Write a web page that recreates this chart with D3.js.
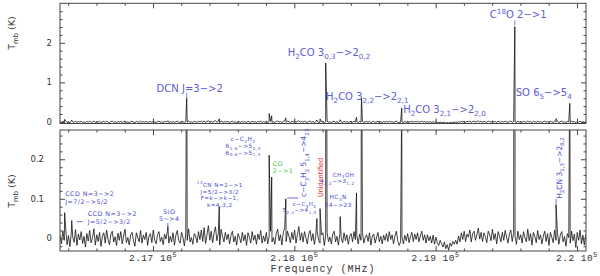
<!DOCTYPE html>
<html><head><meta charset="utf-8">
<script src="https://cdn.jsdelivr.net/npm/d3@7"></script>
<style>
body{margin:0;background:#fff}
svg{display:block}
</style></head><body>
<div id="chart"></div>
<script>
// spectrum: regular channel grid (MHz) + baseline (mK)
var f0 = 216342, df = 10
var baseline = [
  8,-14,19,-5,26,-16,7,-21,14,3,-10,22,-18,11,-4,17,-13,5,-22,12,
  -7,20,-11,2,24,-17,9,-8,15,-20,5,14,-12,21,-3,-16,11,18,-9,4,
  -18,13,-5,17,-14,6,23,-11,2,-17,9,15,-6,-20,14,3,-9,20,-12,8,
  -3,15,-18,6,12,-11,21,-5,-14,9,17,-8,3,-16,11,-2,18,-12,5,-9,
  14,-17,8,20,-6,-12,15,3,-19,11,-5,24,-9,2,-15,12,6,-11,17,-3,
  21,-8,27,-13,9,32,-5,18,-11,14,29,-6,12,-17,23,5,-9,15,-3,11,
  -14,8,18,-9,5,-17,12,2,-11,15,-6,9,-18,14,3,-12,17,-5,8,-15,
  11,-3,20,-12,6,-8,15,-14,5,18,-9,2,-15,12,23,-6,9,-17,14,27,
  -8,18,5,-11,15,-3,21,-12,9,30,-5,14,-9,17,2,-14,11,20,-6,12,
  -15,8,17,-5,-12,9,14,-18,6,15,-8,3,-14,11,18,-9,5,-17,12,2,
  -11,14,-6,9,-15,5,12,-9,17,-3,8,-14,11,-5,15,-12,3,9,-8,14,
  -17,6,11,-12,3,15,-9,5,-14,8,-5,12,-8,17,-3,9,-14,6,18,-6,
  -18,-9,3,-14,8,-6,12,-11,5,15,-8,11,-3,14,-9,6,18,-5,9,-12,
  9,-6,5,-12,8,-15,3,-11,-18,-5,-14,-22,-9,-26,-16,-30,-12,-20,-8,-15,
  -5,-15,6,-9,14,-3,18,-8,11,3,21,-9,12,18,-5,9,26,-2,15,-8,
  14,5,-11,18,9,-6,23,-3,12,-14,17,6,-9,15,-5,20,3,-12,11,21,
  -8,14,5,-15,18,-3,9,-12,17,2,-9,23,-6,12,-17,15,5,-11,20,-3,
  9,-14,6,18,-8,12,-18,15,3,-11,21,-5,14,-15,8,17,-9,5,-20,12,
  2,-12,18,-6,11,-23,15,-5,21,-14,8,-17,9
]
// emission lines: rest freq (MHz) and peak T_mb (K)
var lineFreq = [216375, 216425, 217105, 217238.5, 217469, 217822, 217840, 217940, 218160, 218182,
  218222.2, 218324.7, 218440, 218475.6, 218760.1, 219560.4, 219852, 219949.4]
var linePeak = [0.065, 0.045, 0.03, 0.60, 0.08, 0.21, 0.155, 0.10, 0.05, 0.075,
  1.49, 0.055, 0.115, 0.60, 0.35, 2.41, 0.085, 0.47]

var xMajor = [217000, 218000, 219000, 220000]
var xTickLabels = ['2.17 10^5', '2.18 10^5', '2.19 10^5', '2.2 10^5']
var topMajor = [0, 1, 2], topTickLabels = ['0', '1', '2']
var botMajor = [0, 0.1, 0.2], botTickLabels = ['0', '0.1', '0.2']

// annotations (text lines, line they point at)
var topNotes = [
  {text: ['DCN J=3−>2'], f: 217238.5, t: 0.769, dx: 3, anchor: 'middle', tick: [0.605, 0.73]},
  {text: ['H_2CO 3_{0,3}−>2_{0,2}'], f: 218222.2, t: 1.667, dx: -38, anchor: 'start'},
  {text: ['H_2CO 3_{2,2}−>2_{2,1}'], f: 218475.6, t: 0.56, dx: -35.5, anchor: 'start'},
  {text: ['H_2CO 3_{2,1}−>2_{2,0}'], f: 218760.1, t: 0.235, dx: 1.5, anchor: 'start'},
  {text: ['C^{18}O 2−>1'], f: 219560.4, t: 2.62, dx: -25, anchor: 'start', tick: [2.44, 2.57]},
  {text: ['SO 6_5−>5_4'], f: 219949.4, t: 0.655, dx: 2, anchor: 'end'}
]
var botNotes = [
  {text: ['CCD N=3−>2', 'J=7/2−>5/2'], f: 216375, t: 0.106, dx: 0.5, anchor: 'start', size: 6.3, lh: 7.3},
  {text: ['CCD N=3−>2', 'J=5/2−>3/2'], f: 216425, t: 0.0555, dx: 16, anchor: 'start', size: 6.3, lh: 7.3, hook: [5, 11]},
  {text: ['SiO', '5−>4'], f: 217105, t: 0.062, dx: 1.5, anchor: 'middle', size: 6.3, lh: 7.3, tick: [0.021, 0.039]},
  {text: ['^{13}CN N=2−>1', 'J=5/2−>3/2', 'F=k−>k−1,', 'k=4,3,2'], f: 217469, t: 0.13, dx: 0.5, anchor: 'middle', size: 5.6, lh: 6.6},
  {text: ['c−C_3H_2', '6_{1,6}−>5_{0,5}', '6_{0,6}−>5_{1,5}'], f: 217822, t: 0.246, dx: -26, anchor: 'middle', size: 5.8, lh: 6.8},
  {text: ['CO', '2−>1'], f: 217840, t: 0.184, dx: 1, anchor: 'start', size: 6.3, lh: 7.3, color: '#33cc33'},
  {text: ['c−C_3H_2 5_{1,4}−>4_{23}'], f: 217940, t: 0.1046, dx: 20.5, anchor: 'start', size: 7.5, rot: true, hook: [1.5, 12.5]},
  {text: ['c−C_3H_2', '5_{2,4}−>4_{1,3}'], f: 218160, t: 0.082, dx: -0.5, anchor: 'end', size: 5.5, lh: 6.5},
  {text: ['Unidentified'], f: 218182, t: 0.1046, dx: 2.5, anchor: 'start', size: 7, rot: true, len: 39, color: '#e03030'},
  {text: ['CH_3OH', '4_{2,2}−>3_{1,2}'], f: 218440, t: 0.156, dx: -2, anchor: 'end', size: 5.6, lh: 6.6},
  {text: ['HC_3N', '24−>23'], f: 218324.7, t: 0.099, dx: -2, anchor: 'middle', size: 5.8, lh: 7.8},
  {text: ['H_2CN 3_{1,3}−>2_{0,2}'], f: 219852, t: 0.1, dx: 5.5, anchor: 'start', size: 7.5, rot: true, tick: [0.085, 0.1]}
]

// merge baseline channels with the line peaks
var spec = baseline.map(function(v, i){ return {f: f0 + i*df, t: v/1000} })
lineFreq.forEach(function(f, i){ spec.push({f: f, t: linePeak[i]}) })
spec.sort(function(a, b){ return a.f - b.f })

var W = 600, H = 276
var svg = d3.select('#chart').append('svg').attr('width', W).attr('height', H)
  .style('font-family', 'DejaVu Sans, sans-serif')

var x = d3.scaleLinear().domain([216342, 220064]).range([60, 586])

var panels = [
  {id: 'top', y: d3.scaleLinear().domain([-0.04, 3.0]).range([123.5, 3.3]),
   major: topMajor, labels: topTickLabels, minor: d3.range(0.2, 3.0, 0.2), titleY: 33, notes: topNotes},
  {id: 'bot', y: d3.scaleLinear().domain([-0.032, 0.274]).range([251, 130]),
   major: botMajor, labels: botTickLabels, minor: d3.range(-0.02, 0.27, 0.02), titleY: 191, notes: botNotes}
]

var axisCol = '#444', textCol = '#333', noteCol = '#4a4ad0'

// text with _sub / ^sup runs
function rich(t, s, fs){
  var re = /([_^])\{([^}]*)\}|([_^])(.)|([^_^]+)/g, m, shift = 0
  while ((m = re.exec(s))){
    var kind = m[1] || m[3]
    var txt = m[2] != null ? m[2] : (m[4] != null ? m[4] : m[5])
    var target = kind == '_' ? fs*0.3 : kind == '^' ? -fs*0.45 : 0
    t.append('tspan').attr('dy', target - shift)
      .style('font-size', kind ? (fs*0.72) + 'px' : null).text(txt)
    shift = target
  }
}

var minorX = d3.range(216400, 220064, 200).filter(function(d){ return xMajor.indexOf(d) < 0 })

panels.forEach(function(p, pi){
  var y = p.y
  var y0 = y.range()[1], y1 = y.range()[0]
  var g = svg.append('g')

  g.append('clipPath').attr('id', 'clip' + p.id)
    .append('rect').attr('x', 60).attr('y', y0).attr('width', 526).attr('height', y1 - y0)

  // spectrum
  g.append('path').datum(spec)
    .attr('clip-path', 'url(#clip' + p.id + ')')
    .attr('d', d3.line().x(function(d){ return x(d.f) }).y(function(d){ return y(d.t) }))
    .attr('fill', 'none').attr('stroke', '#111').attr('stroke-width', 0.8)

  // frame + inward ticks
  g.append('rect').attr('x', 60).attr('y', y0).attr('width', 526).attr('height', y1 - y0)
    .attr('fill', 'none').attr('stroke', axisCol).attr('stroke-width', 1)

  function ax(gen, vals, size, tr){
    var a = g.append('g').attr('transform', tr)
      .call(gen.tickValues(vals).tickSize(-size).tickSizeOuter(0).tickFormat(''))
    a.select('.domain').remove()
    a.selectAll('line').attr('stroke', axisCol)
    return a
  }
  var minorY = p.minor.filter(function(v){ return p.major.every(function(m){ return Math.abs(m - v) > 1e-6 }) })
  ax(d3.axisBottom(x), xMajor, 5, 'translate(0,' + y1 + ')')
  ax(d3.axisBottom(x), minorX, 2.5, 'translate(0,' + y1 + ')')
  ax(d3.axisTop(x), xMajor, 5, 'translate(0,' + y0 + ')')
  ax(d3.axisTop(x), minorX, 2.5, 'translate(0,' + y0 + ')')
  ax(d3.axisLeft(y), p.major, 5, 'translate(60,0)')
  ax(d3.axisLeft(y), minorY, 2.5, 'translate(60,0)')
  ax(d3.axisRight(y), p.major, 5, 'translate(586,0)')
  ax(d3.axisRight(y), minorY, 2.5, 'translate(586,0)')

  // y tick labels
  g.selectAll('text.yl').data(p.major).enter().append('text').attr('class', 'yl')
    .attr('x', function(d){ return (pi == 1 && d != 0) ? 44 : 52 })
    .attr('y', function(d){ return y(d) + 3 })
    .attr('text-anchor', 'end').attr('fill', textCol).style('font-size', '8.5px')
    .text(function(d, i){ return p.labels[i] })

  // y title
  var tt = g.append('text').attr('transform', 'translate(15,' + p.titleY + ') rotate(-90)')
    .attr('text-anchor', 'middle').attr('fill', textCol).style('font-size', '9.5px')
  rich(tt, 'T_{mb} (K)', 9.5)

  // annotations
  p.notes.forEach(function(n){
    var fs = n.size || 10, lh = n.lh || 6, col = n.color || (pi == 0 ? '#5c5cd6' : noteCol)
    var ax0 = x(n.f) + n.dx, ay0 = y(n.t)
    n.text.forEach(function(s, li){
      var t = g.append('text').attr('fill', col).style('font-size', fs + 'px')
        .attr('text-anchor', n.anchor)
      if (n.rot){
        t.attr('transform', 'translate(' + ax0 + ',' + ay0 + ') rotate(-90)')
        if (n.len) t.attr('textLength', n.len).attr('lengthAdjust', 'spacingAndGlyphs')
      } else {
        t.attr('x', ax0).attr('y', ay0 + li*lh)
        if (pi == 1) t.style('letter-spacing', '0.5px')
      }
      rich(t, s, fs)
    })
    if (n.tick){
      g.append('line').attr('x1', x(n.f)).attr('x2', x(n.f))
        .attr('y1', y(n.tick[0])).attr('y2', y(n.tick[1])).attr('stroke', col).attr('stroke-width', 0.8)
    }
    if (n.hook){
      var hy = n.rot ? ay0 + 1 : ay0 + (n.text.length - 1)*lh - 2
      g.append('line').attr('x1', x(n.f) + n.hook[0]).attr('x2', x(n.f) + n.hook[1])
        .attr('y1', hy).attr('y2', hy).attr('stroke', col).attr('stroke-width', 0.8)
    }
  })

  // x tick labels only under the lower panel
  if (pi == 1){
    xMajor.forEach(function(v, i){
      var t = svg.append('text').attr('x', x(v)).attr('y', 261)
        .attr('text-anchor', 'middle').attr('fill', textCol)
        .style('font-family', 'Liberation Mono, monospace').style('font-size', '9.5px')
        .style('letter-spacing', '0.5px')
      rich(t, xTickLabels[i], 9.5)
    })
    svg.append('text').attr('x', 323).attr('y', 272).attr('text-anchor', 'middle')
      .attr('fill', textCol).style('font-family', 'Liberation Mono, monospace')
      .style('font-size', '10px').style('letter-spacing', '1px')
      .text('Frequency (MHz)')
  }
})
</script>
</body></html>
